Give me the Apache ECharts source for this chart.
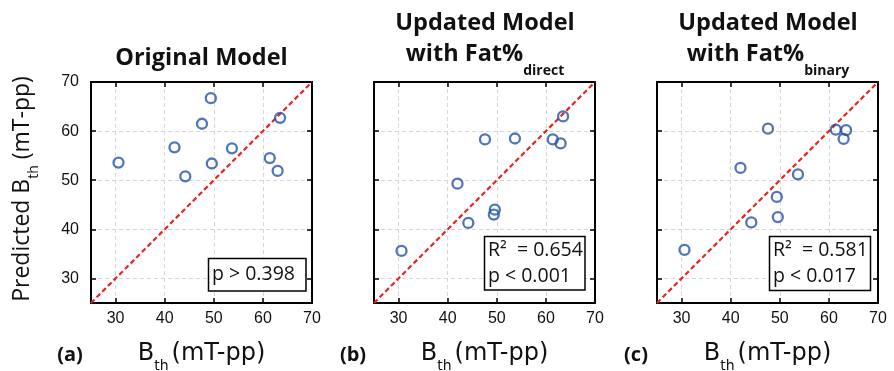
<!DOCTYPE html>
<html>
<head>
<meta charset="utf-8">
<script src="https://cdn.jsdelivr.net/npm/echarts@6/dist/echarts.min.js"></script>
<style>
html,body{margin:0;padding:0;background:#fff;}
#chart{width:894px;height:371px;}
</style>
</head>
<body>
<div id="chart"></div>
<script>
// ---- data ----
const bth = [30.6, 42.0, 44.2, 47.6, 49.4, 49.6, 53.7, 61.4, 63.0, 63.5];
const predOriginal = [53.6, 56.7, 50.8, 61.5, 66.7, 53.4, 56.5, 54.5, 51.9, 62.7];
const predDirect   = [35.6, 49.3, 41.3, 58.3, 43.0, 44.0, 58.5, 58.3, 57.5, 63.0];
const predBinary   = [35.8, 52.5, 41.4, 60.5, 46.6, 42.5, 51.2, 60.3, 58.4, 60.2];
const axisRange = [25, 70];
const identityLine = [25, 70];
const panelLetters = ['(a)', '(b)', '(c)'];
const statsText = [
  ['p > 0.398'],
  ['R\u00B2  = 0.654', 'p < 0.001'],
  ['R\u00B2  = 0.581', 'p < 0.017']
];

// ---- layout ----
const grids = [
  {left: 91, top: 82, width: 221, height: 221},
  {left: 374, top: 82, width: 221, height: 221},
  {left: 657, top: 82, width: 221, height: 221}
];
const seriesY = [predOriginal, predDirect, predBinary];
const BLUE = '#2452a8', RED = '#e8251f';
const TEXT_FONT = '"Open Sans", "Noto Sans", sans-serif';
const NAME_FONT = '"DejaVu Sans", sans-serif';
const TICK_FONT = '"Liberation Sans", Arial, sans-serif';

const xAxes = [], yAxes = [], series = [];
grids.forEach((g, i) => {
  const base = {
    type: 'value', min: axisRange[0], max: axisRange[1], gridIndex: i,
    axisLine: {show: true, onZero: false, lineStyle: {color: '#000', width: 2}},
    axisTick: {show: true, inside: true, length: 5, lineStyle: {color: '#000', width: 1.5}},
    splitLine: {show: true, lineStyle: {color: '#d6d6d6', width: 1, type: [4, 3]}},
    axisLabel: {show: true, color: '#111', fontSize: 16, fontFamily: TICK_FONT,
      formatter: v => (v === 25 ? '' : String(v))}
  };
  xAxes.push(Object.assign({}, base, {position: 'bottom', axisLabel: Object.assign({}, base.axisLabel, {margin: 8})}));
  xAxes.push(Object.assign({}, base, {position: 'top', splitLine: {show: false}, axisLabel: {show: false}}));
  yAxes.push(Object.assign({}, base, {position: 'left', axisLabel: Object.assign({}, base.axisLabel, {show: i === 0, margin: 12})}));
  yAxes.push(Object.assign({}, base, {position: 'right', splitLine: {show: false}, axisLabel: {show: false}}));
  series.push({
    type: 'line', xAxisIndex: 2 * i, yAxisIndex: 2 * i,
    data: identityLine.map(v => [v, v]), symbol: 'none', silent: true,
    lineStyle: {color: RED, width: 2.2, type: [5, 3]}, z: 3
  });
  series.push({
    type: 'scatter', xAxisIndex: 2 * i, yAxisIndex: 2 * i,
    data: bth.map((x, k) => [x, seriesY[i][k]]),
    symbol: 'circle', symbolSize: 10,
    itemStyle: {color: 'rgba(0,0,0,0)', borderColor: BLUE, borderWidth: 2.3}, z: 4
  });
});

// ---- text graphics ----
const graphic = [];
// titles
graphic.push({type: 'text', x: 201.5, y: 58, z: 100, style: {text: 'Original Model', font: 'bold 23.5px ' + TEXT_FONT, fill: '#111', align: 'center', verticalAlign: 'middle'}});
[['direct', 485], ['binary', 768]].forEach(([sub, cx]) => {
  graphic.push({type: 'text', x: cx, y: 23, z: 100, style: {text: 'Updated Model', font: 'bold 23.5px ' + TEXT_FONT, fill: '#111', align: 'center', verticalAlign: 'middle'}});
  graphic.push({type: 'text', x: cx, y: 54, z: 100, style: {
    text: '{m|with Fat%}{s|' + sub + '}', align: 'center', verticalAlign: 'middle',
    rich: {m: {fontSize: 23.5, fontWeight: 'bold', fontFamily: TEXT_FONT, fill: '#111'},
           s: {fontSize: 14, fontWeight: 'bold', fontFamily: TEXT_FONT, fill: '#111', padding: [34, 0, 0, 0]}}
  }});
});
// y axis name
graphic.push({type: 'text', x: 22.5, y: 189, rotation: Math.PI / 2, z: 100, style: {
  text: '{m|Predicted B}{s|th}{m| (mT-pp)}', align: 'center', verticalAlign: 'middle',
  rich: {m: {fontSize: 23, fontFamily: TEXT_FONT, fill: '#111'},
         s: {fontSize: 14, fontFamily: TEXT_FONT, fill: '#111', padding: [24, 0, 0, 0]}}
}});
// x axis names and panel letters
grids.forEach((g, i) => {
  const cx = g.left + g.width / 2;
  graphic.push({type: 'text', x: cx, y: 354, z: 100, style: {
    text: '{m|B}{s|th}{m|(mT-pp)}', align: 'center', verticalAlign: 'middle',
    rich: {m: {fontSize: 24, fontFamily: NAME_FONT, fill: '#111'},
           s: {fontSize: 14, fontFamily: NAME_FONT, fill: '#111', padding: [24, 3, 0, 0]}}
  }});
  graphic.push({type: 'text', x: 70 + (g.left - 91), y: 355, z: 100, style: {
    text: panelLetters[i], font: 'bold 20px ' + TEXT_FONT, fill: '#111', align: 'center', verticalAlign: 'middle'}});
});
// stats boxes
const boxes = [
  {x: 208.5, y: 258.5, w: 97.5, h: 32.5},
  {x: 484.5, y: 236.5, w: 100.5, h: 53.5},
  {x: 769.5, y: 236.5, w: 101, h: 54}
];
boxes.forEach((b, i) => {
  graphic.push({type: 'rect', z: 100, shape: {x: b.x, y: b.y, width: b.w, height: b.h},
    style: {fill: '#fff', stroke: '#000', lineWidth: 1.5}});
  const lines = statsText[i];
  lines.forEach((t, k) => {
    const cy = lines.length === 1 ? b.y + b.h / 2 : b.y + 13.5 + k * 26;
    graphic.push({type: 'text', z: 101, x: b.x + 3.5, y: cy, style: {
      text: t, font: '19.5px ' + TEXT_FONT, fill: '#111', align: 'left', verticalAlign: 'middle'}});
  });
});

const chart = echarts.init(document.getElementById('chart'), null, {renderer: 'canvas'});
chart.setOption({
  animation: false,
  backgroundColor: '#fff',
  grid: grids.map(g => Object.assign({containLabel: false}, g)),
  xAxis: xAxes,
  yAxis: yAxes,
  series: series,
  graphic: graphic
});
</script>
</body>
</html>
